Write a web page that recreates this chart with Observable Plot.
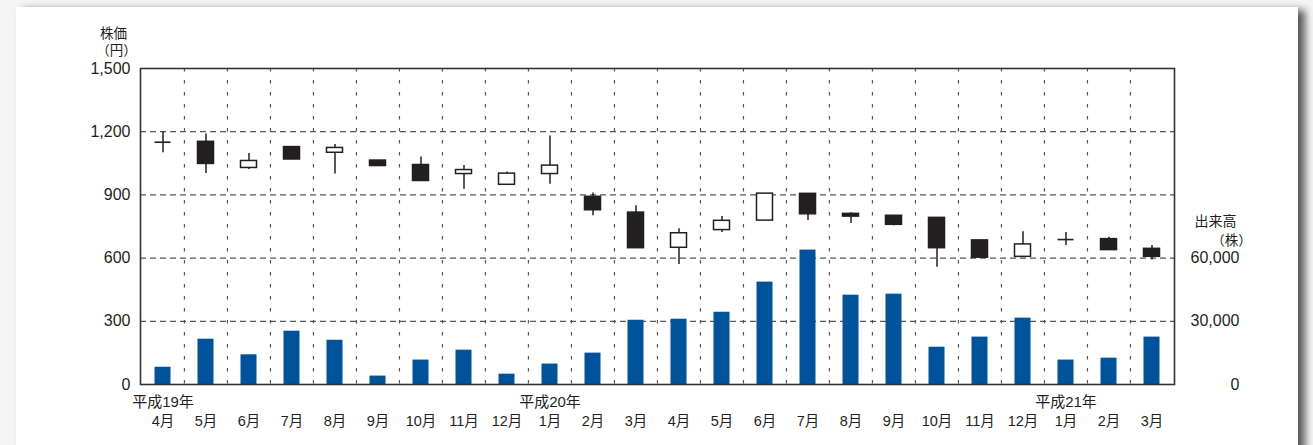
<!DOCTYPE html>
<html>
<head>
<meta charset="utf-8">
<script src="https://cdn.jsdelivr.net/npm/d3@7"></script>
<script src="https://cdn.jsdelivr.net/npm/@observablehq/plot@0.6"></script>
<style>
  html, body { margin: 0; padding: 0; width: 1313px; height: 445px; overflow: hidden; background: #f5f5f5; }
  #card { position: absolute; left: 16px; top: 7px; width: 1282px; height: 470px; background: #fff;
          box-shadow: 7px 3px 8px rgba(0,0,0,0.65); }
  #chart { position: absolute; left: 0; top: 0; }
  svg { font-family: "Liberation Sans", Arial, "Noto Sans CJK JP", sans-serif; }
</style>
</head>
<body>
<div id="card"></div>
<div id="chart"></div>
<script>
const months = ["4月","5月","6月","7月","8月","9月","10月","11月","12月","1月","2月","3月",
                "4月","5月","6月","7月","8月","9月","10月","11月","12月","1月","2月","3月"];
const yearLabels = ["平成19年", "平成20年", "平成21年"];
const yearAt = [0, 9, 21];
const open  = [1150,1152,1028,1127,1100,1063,1042, 999, 948, 999, 891, 816, 649, 733, 778, 905, 810, 801, 791, 684, 606, 688, 690, 644];
const close = [1150,1047,1061,1068,1123,1037, 966,1018,1001,1039, 827, 647, 718, 777, 906, 808, 797, 758, 647, 602, 665, 688, 638, 606];
const high  = [1200,1189,1096,1130,1139,1063,1080,1039,1009,1179, 909, 849, 739, 797, 906, 905, 815, 801, 791, 684, 725, 722, 699, 660];
const low   = [1100,1001,1021,1068, 999,1037, 966, 927, 948, 950, 801, 647, 570, 722, 778, 778, 764, 753, 556, 600, 606, 660, 638, 591];
const volume = [8200,21500,14100,25300,21000,4000,11600,16300,4900,9700,14900,30500,
                31000,34300,48600,63800,42400,42900,17700,22500,31500,11600,12500,22500];
const priceTicks = [0, 300, 600, 900, 1200, 1500];
const gridTicks = [300, 600, 900, 1200];
const volumeTicks = [0, 30000, 60000];
const volumeRatio = 100; // 600 price units = 60,000 shares

const idx = d3.range(months.length);
const candles = idx.map(i => ({i, open: open[i], close: close[i], high: high[i], low: low[i],
  up: close[i] >= open[i], vol: volume[i] / volumeRatio}));
const doji = candles.filter(d => d.open === d.close);
const years = yearLabels.map((t, k) => ({i: yearAt[k], t}));

const W = 1313, H = 445;
const mL = 140, mR = 139, mT = 68, mB = 61;
const bw = (W - mL - mR) / months.length;
const black = "#231f20";
const blue = "#00529b";
const ink = "#231f20";

const chart = Plot.plot({
  width: W, height: H,
  marginLeft: mL, marginRight: mR, marginTop: mT, marginBottom: mB,
  style: {background: "transparent", overflow: "visible"},
  x: {type: "band", domain: idx, padding: 0, axis: null},
  y: {domain: [0, 1500], axis: null},
  marks: [
    Plot.ruleX(idx.slice(1), {x: d => d, dx: -bw / 2, stroke: "#555", strokeWidth: 1.2, strokeDasharray: "3.5,8.5"}),
    Plot.ruleY(gridTicks, {stroke: "#555", strokeWidth: 1.2, strokeDasharray: "6,4"}),
    Plot.barY(candles, {x: "i", y: "vol", fill: blue, insetLeft: 13.5, insetRight: 13.5}),
    Plot.ruleX(candles, {x: "i", y1: "low", y2: "high", stroke: black, strokeWidth: 1.5}),
    Plot.rect(candles, {x: "i", y1: "open", y2: "close", fill: d => d.up ? "#fff" : black,
      stroke: black, strokeWidth: 1.5, insetLeft: 13.5, insetRight: 13.5}),
    Plot.tickY(doji, {x: "i", y: "close", stroke: black, strokeWidth: 1.6, insetLeft: 13.5, insetRight: 13.5}),
    Plot.frame({stroke: "#333", strokeWidth: 1.6}),
    Plot.axisY(priceTicks, {anchor: "left", tickSize: 0, tickPadding: 10, tickFormat: d3.format(","),
      fontSize: 16, fill: ink, label: null}),
    Plot.text(volumeTicks, {y: d => d / volumeRatio, text: d => d3.format(",")(d), frameAnchor: "right",
      dx: 65, textAnchor: "end", fontSize: 16, fill: ink}),
    Plot.axisX(idx, {anchor: "bottom", tickSize: 0, tickPadding: 31, tickFormat: i => months[i],
      fontSize: 14.5, fill: ink, label: null}),
    Plot.text(years, {x: "i", text: "t", frameAnchor: "bottom", dy: 18, lineAnchor: "middle", fontSize: 15, fill: ink}),
    Plot.text(["株価"], {frameAnchor: "top-left", textAnchor: "middle", lineAnchor: "middle", dx: -27, dy: -35, fontSize: 13.5, fill: ink}),
    Plot.text(["（円）"], {frameAnchor: "top-left", textAnchor: "middle", lineAnchor: "middle", dx: -24, dy: -18, fontSize: 13.5, fill: ink}),
    Plot.text(["出来高"], {frameAnchor: "top-right", textAnchor: "middle", lineAnchor: "middle", dx: 41, dy: 153, fontSize: 14, fill: ink}),
    Plot.text(["（株）"], {frameAnchor: "top-right", textAnchor: "middle", lineAnchor: "middle", dx: 57, dy: 172, fontSize: 13.5, fill: ink})
  ]
});
document.getElementById("chart").appendChild(chart);
</script>
</body>
</html>
